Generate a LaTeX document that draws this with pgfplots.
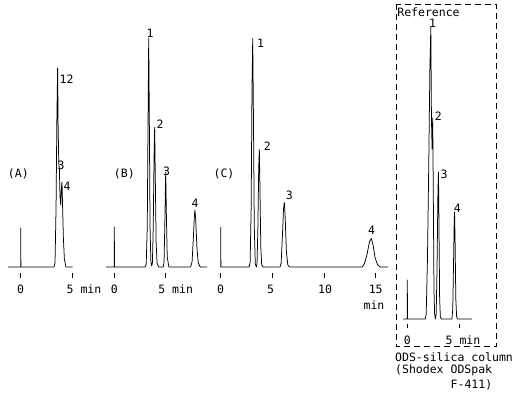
\documentclass[border=0pt]{standalone}
\usepackage{pgfplots}
\pgfplotsset{compat=1.18}
\usepackage{fontspec}
\setmainfont{DejaVu Sans Mono}

\pgfplotsset{
  chrom/.style={
    anchor=south west, y=1pt, ymin=-6, ymax=300,
    axis x line=bottom, axis y line=none,
    x axis line style={draw=none,-},
    xticklabels={}, tick align=outside, major tick length=5pt,
    every tick/.style={black, line width=0.7pt},
    clip=false,
  },
  trace/.style={black, line width=0.75pt, line join=round, mark=none},
}

\begin{document}
\begin{tikzpicture}[x=1pt,y=1pt]
\useasboundingbox (0,0) rectangle (514,397);

% (A)
\begin{axis}[chrom, at={(-0.1pt,124pt)}, x=10.4pt, xmin=-2, xmax=6, xtick={0,5}]
\addplot[trace] coordinates {(-1.2,0) (0,0) (0,39) (0.02,0) (3.2,0) (3.3,4) (3.4,60) (3.48,150) (3.55,199) (3.6,140) (3.66,104) (3.72,98) (3.78,70) (3.85,62) (3.92,80) (3.97,85) (4.03,60) (4.1,30) (4.2,8) (4.35,0) (5.0,0)};
\end{axis}

% (B)
\begin{axis}[chrom, at={(93.7pt,124pt)}, x=10.3pt, xmin=-2, xmax=10, xtick={0,5}]
\addplot[trace] coordinates {(-0.8,0) (0,0) (0,40) (0.02,0) (3.0,0) (3.1,3) (3.2,40) (3.28,150) (3.34,229) (3.4,150) (3.47,40) (3.55,6) (3.63,1) (3.7,4) (3.78,40) (3.86,110) (3.92,140) (3.98,90) (4.06,25) (4.15,4) (4.3,0) (4.75,0) (4.83,5) (4.9,40) (4.99,95) (5.06,50) (5.14,10) (5.3,0) (7.4,0) (7.55,5) (7.68,30) (7.78,52) (7.83,57) (7.9,48) (8.02,20) (8.15,4) (8.35,0) (9.0,0)};
\end{axis}

% (C)
\begin{axis}[chrom, at={(210.37pt,124pt)}, x=10.33pt, xmin=-1, xmax=17, xtick={0,5,10,15}]
\addplot[trace] coordinates {(0,0) (0,39.5) (0.02,0) (2.75,0) (2.85,5) (2.95,60) (3.03,180) (3.1,228.5) (3.17,150) (3.25,40) (3.35,3) (3.45,0) (3.52,4) (3.6,40) (3.68,100) (3.74,117.5) (3.8,80) (3.88,20) (3.97,2) (4.1,0) (5.75,0) (5.85,4) (5.97,30) (6.08,58) (6.16,64.5) (6.24,50) (6.36,15) (6.5,2) (6.65,0) (13.7,0) (13.9,3) (14.15,12) (14.4,25) (14.58,28.5) (14.75,22) (14.95,9) (15.2,2) (15.45,0) (16.2,0)};
\end{axis}

% Reference
\begin{axis}[chrom, at={(396.8pt,73pt)}, x=10.5pt, xmin=-1, xmax=7, ymin=-5, major tick length=4pt, xtick={0,5}]
\addplot[trace] coordinates {(-0.4,0) (0,0) (0,39) (0.02,0) (1.72,0) (1.8,5) (1.92,60) (2.05,160) (2.15,250) (2.24,292) (2.3,200) (2.36,170) (2.42,201) (2.48,120) (2.54,30) (2.6,5) (2.68,0) (2.75,5) (2.83,50) (2.92,130) (2.97,147) (3.02,90) (3.08,20) (3.15,2) (3.25,0) (4.25,0) (4.33,10) (4.41,60) (4.47,100) (4.5,107) (4.55,80) (4.62,20) (4.7,2) (4.8,0) (6.15,0)};
\end{axis}

\begin{scope}[shift={(0,397)}, yscale=-1, every node/.style={font=\fontsize{11.5}{13}\selectfont, inner sep=0pt}]
% panel labels
\node at (18.3,174) {(A)};
\node at (124.3,174) {(B)};
\node at (224,174) {(C)};
% peak labels A
\node[anchor=west] at (59.5,79.5) {12};
\node at (61,165.5) {3};
\node at (67,186) {4};
% peak labels B
\node at (150,33) {1};
\node at (160,124) {2};
\node at (166.7,171) {3};
\node at (195,203) {4};
% peak labels C
\node at (260.7,43) {1};
\node at (267.3,146) {2};
\node at (289.3,195) {3};
\node at (371.7,230.7) {4};
% peak labels D
\node at (432.5,23.5) {1};
\node at (438.3,116) {2};
\node at (444,174) {3};
\node at (457.3,208) {4};
\node at (428.5,12.7) {Reference};
% tick labels
\node at (20.7,289) {0};
\node[anchor=west] at (66.5,289) {5 min};
\node at (114.3,289) {0};
\node[anchor=west] at (158.2,289) {5 min};
\node at (220.7,289) {0};
\node at (270.7,289) {5};
\node at (325,289) {10};
\node at (375.7,289) {15};
\node at (374,305) {min};
\node at (407.3,340) {0};
\node[anchor=west] at (445.5,340) {5 min};
% box
\draw[black, line width=0.8pt, dash pattern=on 6pt off 4pt] (396.7,4) rectangle (496.5,346.5);
\node[anchor=west] at (395,356.7) {ODS-silica column};
\node[anchor=west] at (395,370.7) {(Shodex ODSpak};
\node[anchor=west] at (450.5,385) {F-411)};
\end{scope}
\end{tikzpicture}
\end{document}
